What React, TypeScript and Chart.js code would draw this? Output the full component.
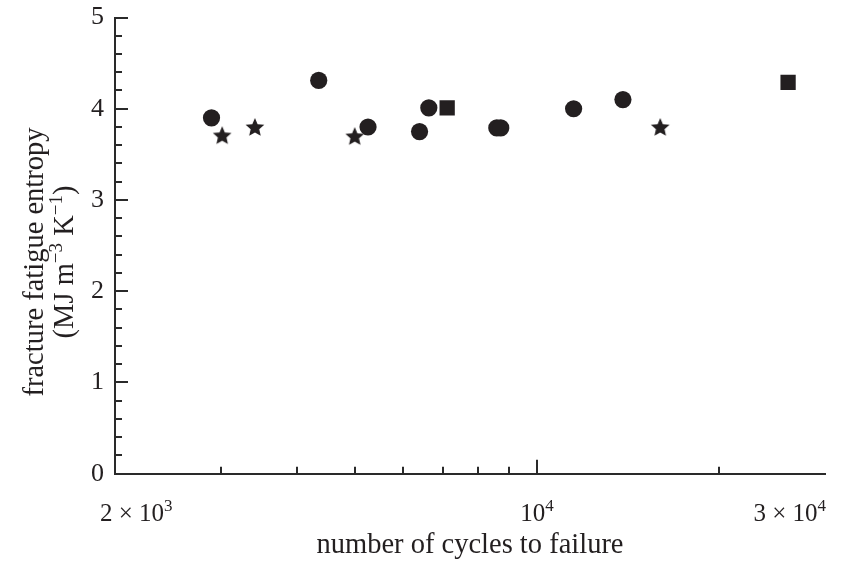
import { useEffect, useRef } from 'react';
import { Chart, registerables } from 'chart.js';

Chart.register(...registerables);

const INK = '#231f20';
const AXIS = '#2a2a2a';
const FONT = '"Liberation Serif", "Times New Roman", serif';

// Data (number of cycles to failure, fracture fatigue entropy)
const circleX = [2890, 4350, 5250, 6390, 6620, 8580, 8710, 11500, 13880];
const circleY = [3.9, 4.31, 3.8, 3.75, 4.01, 3.79, 3.79, 4.0, 4.1];
const starX = [3010, 3410, 4990, 16000];
const starY = [3.71, 3.8, 3.7, 3.8];
const squareX = [7100, 26060];
const squareY = [4.01, 4.29];

// Axes
const xMin = 2000;
const xMax = 30000;
const yMin = 0;
const yMax = 5;
const xMajorTicks = [10000];
const xMinorTicks = [3000, 4000, 5000, 6000, 7000, 8000, 9000, 20000];
const xTickLabels = [
  { v: 2000, base: '2 × 10', sup: '3', align: 'left' },
  { v: 10000, base: '10', sup: '4', align: 'center' },
  { v: 30000, base: '3 × 10', sup: '4', align: 'right' },
];
const xTitle = 'number of cycles to failure';
const yTitleLine1 = [{ t: 'fracture fatigue entropy' }];
const yTitleLine2 = [
  { t: '(MJ m' },
  { t: '−3', sup: true },
  { t: ' K' },
  { t: '−1', sup: true },
  { t: ')' },
];

type Part = { t: string; sup?: boolean };

function drawRich(ctx: CanvasRenderingContext2D, parts: Part[], x: number, y: number, align: string, size: number) {
  const supSize = Math.round(size * 0.68);
  const widths = parts.map((p) => {
    ctx.font = `${p.sup ? supSize : size}px ${FONT}`;
    return ctx.measureText(p.t).width;
  });
  const total = widths.reduce((a, b) => a + b, 0);
  let cx = align === 'left' ? x : align === 'right' ? x - total : x - total / 2;
  ctx.textAlign = 'left';
  ctx.textBaseline = 'alphabetic';
  parts.forEach((p, i) => {
    ctx.font = `${p.sup ? supSize : size}px ${FONT}`;
    ctx.fillText(p.t, cx, p.sup ? y - size * 0.4 : y);
    cx += widths[i];
  });
}

function makeStar(R: number) {
  const size = Math.ceil(R * 2) + 2;
  const c = document.createElement('canvas');
  c.width = size;
  c.height = size;
  const g = c.getContext('2d')!;
  g.fillStyle = INK;
  g.beginPath();
  for (let i = 0; i < 10; i++) {
    const r = i % 2 === 0 ? R : R * 0.46;
    const a = -Math.PI / 2 + (i * Math.PI) / 5;
    const px = size / 2 + r * Math.cos(a);
    const py = size / 2 + r * Math.sin(a) + R * 0.09;
    if (i === 0) g.moveTo(px, py);
    else g.lineTo(px, py);
  }
  g.closePath();
  g.fill();
  return c;
}

const axisDecor = {
  id: 'axisDecor',
  afterDraw(chart: any) {
    const { ctx, scales } = chart;
    const xs = scales.x;
    const ys = scales.y;
    const left = chart.chartArea.left;
    const bottom = chart.chartArea.bottom;
    ctx.save();
    ctx.strokeStyle = AXIS;
    ctx.lineWidth = 2;
    // y ticks (inward)
    for (let i = 0; i <= 25; i++) {
      const v = yMin + i * 0.2;
      const major = i % 5 === 0;
      if (i === 0) continue;
      const py = Math.round(ys.getPixelForValue(v));
      ctx.beginPath();
      ctx.moveTo(left, py);
      ctx.lineTo(left + (major ? 13 : 7), py);
      ctx.stroke();
    }
    // x ticks (inward)
    const drawX = (v: number, len: number) => {
      const px = Math.round(xs.getPixelForValue(v));
      ctx.beginPath();
      ctx.moveTo(px, bottom);
      ctx.lineTo(px, bottom - len);
      ctx.stroke();
    };
    xMinorTicks.forEach((v) => drawX(v, 7));
    xMajorTicks.forEach((v) => drawX(v, 14));

    ctx.fillStyle = INK;
    // x tick labels
    xTickLabels.forEach((l) => {
      const px = xs.getPixelForValue(l.v);
      const x = l.align === 'left' ? px - 15 : l.align === 'right' ? px + 1 : px;
      drawRich(ctx, [{ t: l.base }, { t: l.sup, sup: true }], x, 521, l.align, 25);
    });
    // x title
    const midX = (chart.chartArea.left + chart.chartArea.right) / 2;
    drawRich(ctx, [{ t: xTitle }], midX, 553, 'center', 28.5);
    // y title
    ctx.save();
    ctx.translate(0, 262);
    ctx.rotate(-Math.PI / 2);
    drawRich(ctx, yTitleLine1, 0, 43, 'center', 28.5);
    drawRich(ctx, yTitleLine2, 0, 73, 'center', 28.5);
    ctx.restore();
    ctx.restore();
  },
};

export default function App() {
  const ref = useRef<HTMLCanvasElement>(null);
  useEffect(() => {
    const star = makeStar(9.8);
    const chart = new Chart(ref.current!, {
      type: 'scatter',
      data: {
        datasets: [
          {
            data: circleX.map((x, i) => ({ x, y: circleY[i] })),
            pointStyle: 'circle',
            pointRadius: 8.6,
            backgroundColor: INK,
            borderWidth: 0,
          },
          {
            data: starX.map((x, i) => ({ x, y: starY[i] })),
            pointStyle: star as any,
            pointRadius: 9.8,
            backgroundColor: INK,
            borderWidth: 0,
          },
          {
            data: squareX.map((x, i) => ({ x, y: squareY[i] })),
            pointStyle: 'rect',
            pointRadius: 10.8,
            backgroundColor: INK,
            borderWidth: 0,
          },
        ],
      },
      options: {
        responsive: false,
        animation: false,
        events: [],
        plugins: { legend: { display: false }, tooltip: { enabled: false } },
        layout: { padding: { left: 0, right: 17, top: 17.5, bottom: 99.3 } },
        scales: {
          x: {
            type: 'logarithmic',
            min: xMin,
            max: xMax,
            grid: { display: false, drawTicks: false },
            border: { display: true, color: AXIS, width: 2 },
            ticks: { display: false },
            afterFit: (s: any) => {
              s.height = 0;
              s.paddingLeft = 0;
              s.paddingRight = 0;
            },
          },
          y: {
            min: yMin,
            max: yMax,
            grid: { display: false, drawTicks: false },
            border: { display: true, color: AXIS, width: 2 },
            ticks: { stepSize: 1, color: INK, padding: 11, font: { family: FONT, size: 26 } },
            afterFit: (s: any) => {
              s.width = 115;
              s.paddingTop = 0;
              s.paddingBottom = 0;
            },
          },
        },
      },
      plugins: [axisDecor],
    });
    return () => chart.destroy();
  }, []);
  return (
    <div style={{ position: 'fixed', left: 0, top: 0, width: 842, height: 573, background: '#fff' }}>
      <canvas ref={ref} width={842} height={573} style={{ display: 'block' }} />
    </div>
  );
}
